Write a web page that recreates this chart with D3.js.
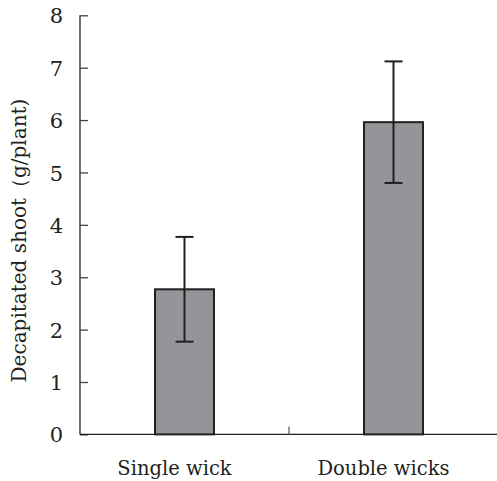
<!DOCTYPE html>
<html>
<head>
<meta charset="utf-8">
<script src="https://cdn.jsdelivr.net/npm/d3@7"></script>
<style>
html,body{margin:0;padding:0;background:#fff;}
svg{display:block;}
</style>
</head>
<body>
<svg id="chart" width="497" height="481"></svg>
<script>
const categories = ["Single wick", "Double wicks"];
const means = [2.77, 5.96];
const errors = [1.0, 1.16];
const yTicks = [0, 1, 2, 3, 4, 5, 6, 7, 8];
const yLabel = "Decapitated shoot（g/plant)";

const ink = "#231f20";
const font = "DejaVu Serif";
const svg = d3.select("#chart");

const y = d3.scaleLinear().domain([0, 8]).range([434.4, 15.3]);
const xBand = d3.scaleBand().domain(categories).range([80, 498]).paddingInner(0.718).paddingOuter(0.359);
const xStep = d3.scaleBand().domain(categories).range([80, 498]).padding(0);

// y axis
const yAxis = d3.axisRight(y).tickValues(yTicks).tickSize(8).tickFormat(d3.format("d"));
const gy = svg.append("g").attr("transform", "translate(80,0)").call(yAxis);
gy.attr("font-family", font).attr("font-size", 21);
gy.select(".domain").attr("d", `M0,${y(8)}V${y(0)}`).attr("stroke", ink).attr("stroke-width", 1.3);
gy.selectAll(".tick line").attr("stroke", "#444").attr("stroke-width", 1.3);
gy.selectAll(".tick text")
  .attr("x", -17).attr("text-anchor", "end").attr("dy", "0.36em").attr("fill", ink);

// x axis
svg.append("line").attr("x1", 80).attr("x2", 500).attr("y1", y(0)).attr("y2", y(0))
  .attr("stroke", ink).attr("stroke-width", 1.3);
svg.selectAll(".xtick").data(categories.slice(1)).enter().append("line")
  .attr("x1", d => xStep(d)).attr("x2", d => xStep(d))
  .attr("y1", y(0)).attr("y2", y(0) - 8)
  .attr("stroke", "#555").attr("stroke-width", 1.2);
svg.selectAll(".xlabel").data(categories).enter().append("text")
  .attr("x", d => xBand(d) + xBand.bandwidth() / 2 - 10).attr("y", 475)
  .attr("text-anchor", "middle")
  .attr("font-family", font).attr("font-size", 19.5).attr("fill", ink)
  .text(d => d);

// bars
svg.selectAll(".bar").data(categories).enter().append("rect")
  .attr("x", d => xBand(d)).attr("width", xBand.bandwidth())
  .attr("y", (d, i) => y(means[i])).attr("height", (d, i) => y(0) - y(means[i]))
  .attr("fill", "#939598").attr("stroke", ink).attr("stroke-width", 2);

// error bars
const cap = 9;
categories.forEach((c, i) => {
  const cx = xBand(c) + xBand.bandwidth() / 2;
  const g = svg.append("g").attr("stroke", ink).attr("stroke-width", 2);
  g.append("line").attr("x1", cx).attr("x2", cx).attr("y1", y(means[i] + errors[i])).attr("y2", y(means[i] - errors[i]));
  g.append("line").attr("x1", cx - cap).attr("x2", cx + cap).attr("y1", y(means[i] + errors[i])).attr("y2", y(means[i] + errors[i]));
  g.append("line").attr("x1", cx - cap).attr("x2", cx + cap).attr("y1", y(means[i] - errors[i])).attr("y2", y(means[i] - errors[i]));
});

// y label
svg.append("text")
  .attr("transform", `translate(26,240.5) rotate(-90)`)
  .attr("text-anchor", "middle")
  .attr("font-family", font).attr("font-size", 20).attr("fill", ink)
  .text(yLabel);
</script>
</body>
</html>
